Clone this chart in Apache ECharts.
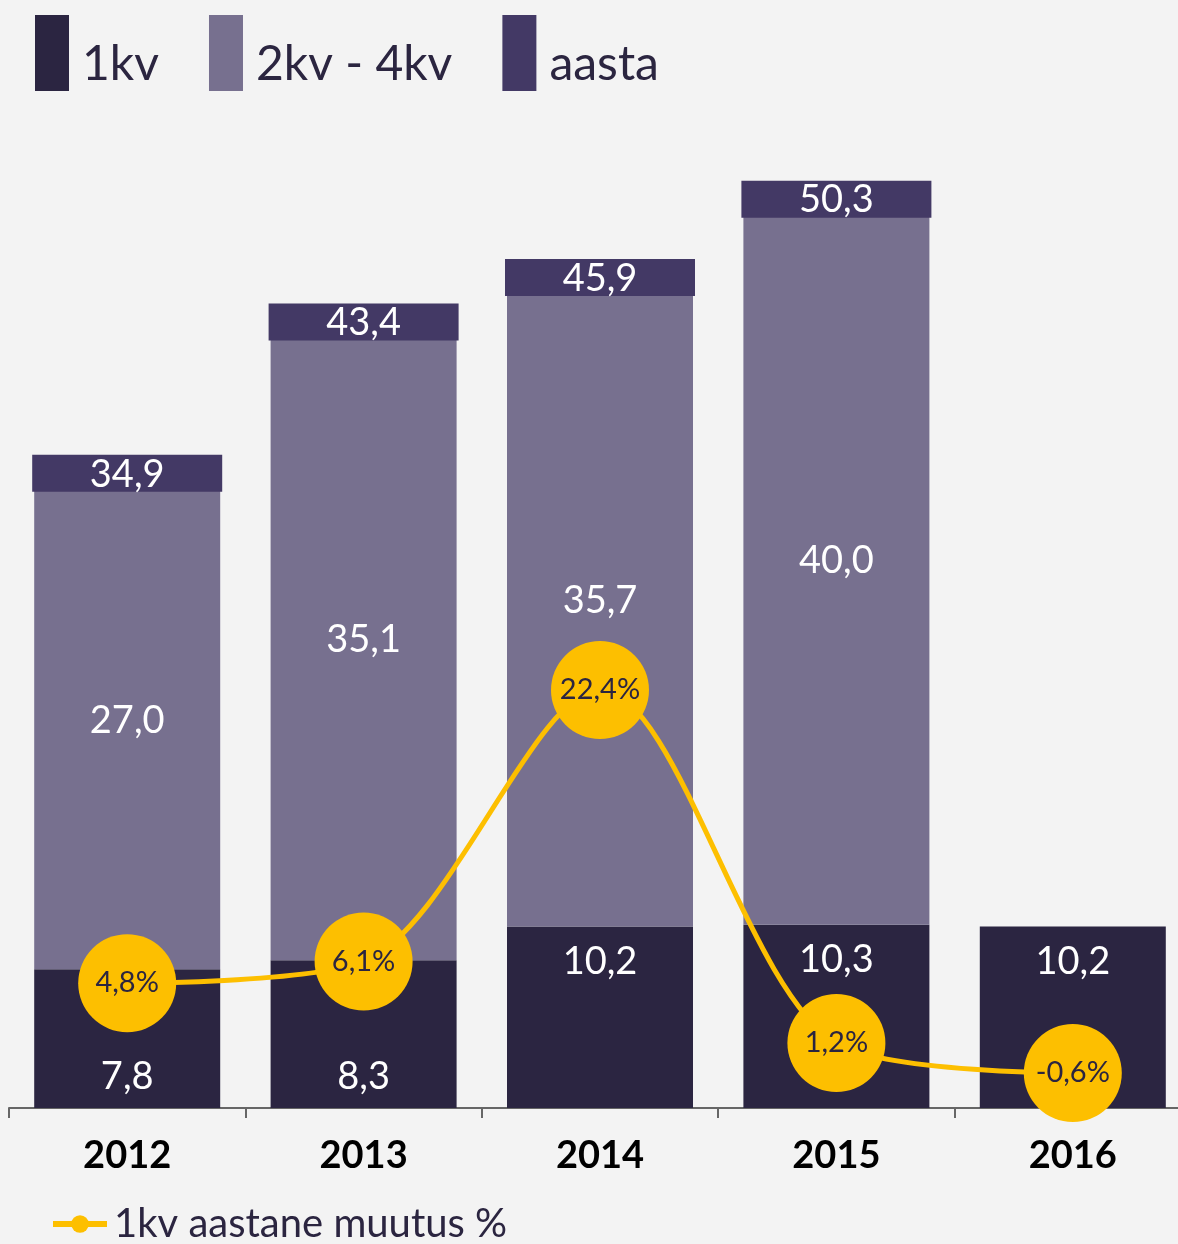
<!DOCTYPE html>
<html>
<head>
<meta charset="utf-8">
<script src="https://cdn.jsdelivr.net/npm/echarts@6/dist/echarts.min.js"></script>
<style>
  html, body { margin: 0; padding: 0; background: #f3f3f3; }
  #chart { width: 1178px; height: 1244px; }
</style>
</head>
<body>
<div id="chart"></div>
<script>
  // andmed
  var years = ['2012', '2013', '2014', '2015', '2016'];
  var kv1 = [7.8, 8.3, 10.2, 10.3, 10.2];
  var kv24 = [27.0, 35.1, 35.7, 40.0, null];
  var aasta = [34.9, 43.4, 45.9, 50.3, null];
  var muutus = [4.8, 6.1, 22.4, 1.2, -0.6];
  // 1kv sildi asukoht (all kui ring ees)
  var kv1LabelPos = ['insideBottom', 'insideBottom', 'insideTop', 'insideTop', 'insideTop'];

  var font = 'Lato';
  var fmt = function (v) { return v.toFixed(1).replace('.', ','); };

  var chart = echarts.init(document.getElementById('chart'));
  chart.setOption({
    backgroundColor: '#f3f3f3',
    textStyle: { fontFamily: font },
    animation: false,
    legend: [{
      left: 35,
      top: 15,
      padding: 0,
      itemWidth: 34,
      itemHeight: 76,
      itemGap: 50,
      data: [
        { name: '1kv', icon: 'rect' },
        { name: '2kv - 4kv', icon: 'rect' },
        { name: 'aasta', icon: 'rect' }
      ],
      // tekst ikooni keskelt veidi allapoole
      formatter: function (name) { return '{a|' + name + '}'; },
      textStyle: {
        fontSize: 48,
        color: '#2b2540',
        rich: { a: { fontSize: 48, color: '#2b2540', lineHeight: 50, padding: [24, 0, 0, 8] } }
      }
    }, {
      left: 50,
      top: 1204,
      padding: 0,
      itemWidth: 54,
      itemHeight: 22,
      lineStyle: { width: 6 },
      data: ['1kv aastane muutus %'],
      textStyle: { fontSize: 40, color: '#2b2540', padding: [4, 0, 0, 2] }
    }],
    grid: { left: 9, top: 129, width: 1182, bottom: 136, outerBoundsMode: 'none' },
    xAxis: {
      type: 'category',
      data: years,
      axisLine: { lineStyle: { color: '#666', width: 2 } },
      axisTick: { show: true, length: 10, lineStyle: { color: '#666', width: 2 } },
      axisLabel: { fontSize: 38, fontWeight: 'bold', color: '#000', margin: 29, fontFamily: font }
    },
    yAxis: [
      { type: 'value', min: 0, max: 55, show: false },
      { type: 'value', min: -2.7, max: 56.1, show: false }
    ],
    series: [{
      name: '1kv',
      type: 'bar',
      stack: 'kv',
      barWidth: 186,
      itemStyle: { color: '#2b2541' },
      data: kv1.map(function (v, i) {
        return {
          value: v,
          label: { position: kv1LabelPos[i], distance: i < 2 ? 12 : 16 }
        };
      }),
      label: {
        show: true,
        color: '#fff',
        fontSize: 38,
        formatter: function (p) { return fmt(p.value); }
      }
    }, {
      name: '2kv - 4kv',
      type: 'bar',
      stack: 'kv',
      barWidth: 186,
      itemStyle: { color: '#77708f' },
      data: kv24,
      label: {
        show: true,
        position: 'inside',
        offset: [0, -8],
        color: '#fff',
        fontSize: 38,
        formatter: function (p) { return fmt(p.value); }
      }
    }, {
      name: 'aasta',
      type: 'custom',
      z: 3,
      itemStyle: { color: '#433965' },
      data: aasta.map(function (v, i) { return v == null ? [i, '-'] : [i, v]; }),
      encode: { x: 0, y: 1 },
      renderItem: function (params, api) {
        var v = api.value(1);
        if (isNaN(v)) return null;
        var p = api.coord([api.value(0), v]);
        var w = 190, h = 37;
        return {
          type: 'group',
          children: [{
            type: 'rect',
            shape: { x: p[0] - w / 2, y: p[1] - h + 5, width: w, height: h },
            style: { fill: '#433965' }
          }, {
            type: 'text',
            x: p[0],
            y: p[1] - h / 2 + 6,
            style: {
              text: fmt(v),
              fill: '#fff',
              font: '38px ' + font,
              align: 'center',
              verticalAlign: 'middle'
            }
          }]
        };
      }
    }, {
      name: '1kv aastane muutus %',
      type: 'line',
      yAxisIndex: 1,
      smooth: 0.3,
      symbol: 'circle',
      symbolSize: 98,
      z: 5,
      lineStyle: { color: '#fdbf00', width: 5 },
      itemStyle: { color: '#fdbf00' },
      data: muutus,
      label: {
        show: true,
        position: 'inside',
        color: '#2b2540',
        fontSize: 29,
        formatter: function (p) { return fmt(p.value) + '%'; }
      }
    }]
  });
</script>
</body>
</html>
